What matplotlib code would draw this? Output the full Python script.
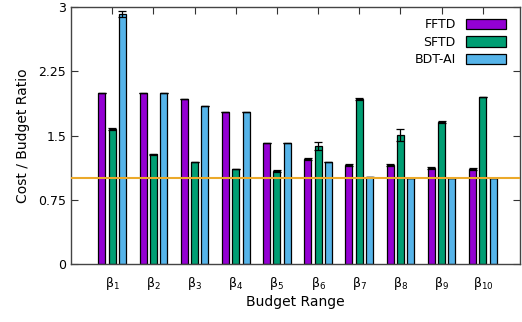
import numpy as np
import matplotlib.pyplot as plt

plt.rcParams['font.family'] = 'DejaVu Sans'
plt.rcParams['mathtext.fontset'] = 'dejavusans'

ranges = ['β$_{%d}$' % i for i in range(1, 11)]
fftd = [2.0, 2.0, 1.925, 1.77, 1.415, 1.225, 1.155, 1.155, 1.125, 1.11]
sftd = [1.58, 1.28, 1.19, 1.11, 1.09, 1.38, 1.93, 1.51, 1.66, 1.95]
bdt_ai = [2.92, 2.0, 1.85, 1.77, 1.415, 1.19, 1.02, 1.0, 1.0, 1.0]
fftd_err = [0.0, 0.0, 0.0, 0.0, 0.0, 0.01, 0.01, 0.01, 0.01, 0.01]
sftd_err = [0.01, 0.01, 0.0, 0.0, 0.01, 0.045, 0.01, 0.07, 0.01, 0.0]
bdt_err = [0.04, 0.0, 0.0, 0.0, 0.0, 0.0, 0.0, 0.0, 0.0, 0.0]
budget_line = 1.0

colors = ['#9400D3', '#009E73', '#56B4E9']

fig = plt.figure(figsize=(5.22, 3.22), dpi=100)
ax = fig.add_axes([0.136, 0.180, 0.860, 0.798])

x = np.arange(1, len(ranges) + 1)
w = 0.17
series = [('FFTD', fftd, fftd_err), ('SFTD', sftd, sftd_err), ('BDT-AI', bdt_ai, bdt_err)]
for i, (name, vals, err) in enumerate(series):
    ax.bar(x + (i - 1) * 0.25, vals, w, color=colors[i], edgecolor='black',
           linewidth=0.9, label=name, zorder=2,
           yerr=err, error_kw=dict(ecolor='black', elinewidth=0.9, capsize=3, capthick=0.9))

ax.axhline(budget_line, color='#EBA92A', lw=1.5, zorder=3)

ax.set_xlim(0, 10.9)
ax.set_ylim(0, 3)
ax.set_yticks([0, 0.75, 1.5, 2.25, 3])
ax.set_yticklabels(['0', '0.75', '1.5', '2.25', '3'])
ax.set_xticks(x)
ax.set_xticklabels(ranges)
ax.tick_params(direction='in', top=True, right=True, labelsize=9, length=5, color='#333333')
ax.tick_params(axis='x', pad=8)
for s in ax.spines.values():
    s.set_color('#444444')
    s.set_linewidth(1.0)

ax.set_xlabel('Budget Range', fontsize=10, labelpad=2)
ax.set_ylabel('Cost / Budget Ratio', fontsize=10, labelpad=6)

leg = ax.legend(loc='upper right', frameon=False, markerfirst=False, fontsize=9,
                handlelength=3.2, handleheight=0.9, labelspacing=0.35,
                bbox_to_anchor=(0.985, 0.985), borderaxespad=0.2)

fig.savefig('out.png', dpi=100)
